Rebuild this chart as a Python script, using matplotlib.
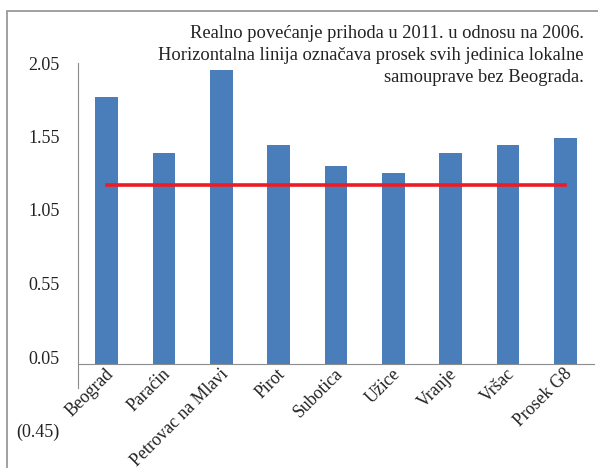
import matplotlib
matplotlib.use("Agg")
import matplotlib.pyplot as plt
from matplotlib.patches import Rectangle
import matplotlib.transforms as mtransforms

plt.rcParams['font.family'] = ['Liberation Serif', 'DejaVu Serif']

categories = ["Beograd", "Paraćin", "Petrovac na Mlavi", "Pirot", "Subotica",
              "Užice", "Vranje", "Vršac", "Prosek G8"]
growth = [1.82, 1.44, 2.00, 1.49, 1.35, 1.30, 1.44, 1.49, 1.54]
avg_without_belgrade = [1.22] * len(categories)
y_ticks = [-0.45, 0.05, 0.55, 1.05, 1.55, 2.05]
y_tick_labels = ["(0.45)", "0.05", "0.55", "1.05", "1.55", "2.05"]
title_lines = [
    "Realno povećanje prihoda u 2011. u odnosu na 2006.",
    "Horizontalna linija označava prosek svih jedinica lokalne",
    "samouprave bez Beograda.",
]

W, H = 598, 468
fig = plt.figure(figsize=(W / 100, H / 100), dpi=100)

# outer frame
fig.patches.append(Rectangle((7 / W, -0.05), 1.05, (H - 11) / H + 0.05,
                             transform=fig.transFigure, fill=False,
                             edgecolor="#9a9a9a", linewidth=1.3))

ax = fig.add_axes([78 / W, (H - 430.5) / H, 516 / W, (430.5 - 63) / H])
x = list(range(len(categories)))
ax.bar(x, growth, width=0.4, color="#4A7EBB", zorder=2)
ax.plot(x, avg_without_belgrade, color="#ED1C24", linewidth=2.6, zorder=3)

ax.set_xlim(-0.5, len(categories) - 0.5)
ax.set_ylim(-0.45, 2.05)
ax.set_yticks(y_ticks)
ax.set_yticklabels(y_tick_labels, fontsize=13, color="#222222")
ax.tick_params(axis="y", length=0, pad=13)
ax.tick_params(axis="x", length=0)
ax.set_xticks([])

for s in ["top", "right"]:
    ax.spines[s].set_visible(False)
ax.spines["left"].set_color("#8c8c8c")
ax.spines["left"].set_bounds(-0.163, 2.05)
ax.spines["bottom"].set_position(("data", 0))
ax.spines["bottom"].set_color("#8c8c8c")
ax.patch.set_alpha(0)

offset = mtransforms.ScaledTranslation(4 / 100, -7 / 100, fig.dpi_scale_trans)
for xi, name in zip(x, categories):
    ax.text(xi, 0, name, rotation=45, rotation_mode="anchor", ha="right",
            va="center", fontsize=12.8, color="#222222",
            transform=ax.transData + offset)

for i, (line, yp) in enumerate(zip(title_lines, [33, 55.5, 78])):
    fig.text(584 / W, 1 - yp / H, line, ha="right", va="center",
             fontsize=13.3, color="#222222")

fig.savefig("out.png", dpi=100)
